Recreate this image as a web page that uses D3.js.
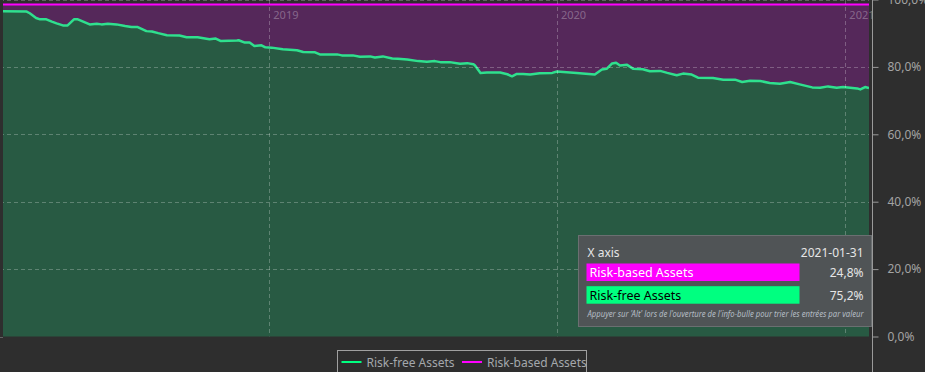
<!DOCTYPE html>
<html><head><meta charset="utf-8">
<script src="https://cdn.jsdelivr.net/npm/d3@7"></script>
<style>
html,body{margin:0;padding:0;background:#2e2e2e;}
svg{display:block;font-family:"Noto Sans",sans-serif;}
</style></head>
<body>
<svg id="chart" width="925" height="372"></svg>
<script>
const dates = ["2018-01-28","2018-02-27","2018-03-03","2018-03-11","2018-03-16","2018-03-24","2018-03-31","2018-04-06","2018-04-14","2018-04-20",
"2018-04-28","2018-05-03","2018-05-09","2018-05-18","2018-05-27","2018-06-02","2018-06-10","2018-06-21","2018-07-02","2018-07-10",
"2018-07-18","2018-07-29","2018-08-05","2018-08-13","2018-08-24","2018-09-09","2018-09-18","2018-10-02","2018-10-17","2018-10-25",
"2018-10-31","2018-11-21","2018-11-23","2018-12-01","2018-12-07","2018-12-13","2018-12-22","2018-12-27","2019-01-04","2019-01-18",
"2019-02-05","2019-02-13","2019-02-28","2019-03-06","2019-03-28","2019-04-03","2019-04-17","2019-04-26","2019-05-09","2019-05-15",
"2019-05-25","2019-06-06","2019-06-13","2019-06-25","2019-07-09","2019-07-20","2019-07-30","2019-08-06","2019-08-18","2019-08-31",
"2019-09-09","2019-09-17","2019-09-19","2019-09-26","2019-10-04","2019-10-21","2019-10-30","2019-11-05","2019-11-11","2019-11-19",
"2019-11-28","2019-12-10","2019-12-26","2020-01-01","2020-01-26","2020-02-18","2020-02-27","2020-03-04","2020-03-11","2020-03-16",
"2020-03-21","2020-03-30","2020-04-07","2020-04-19","2020-04-28","2020-05-11","2020-05-20","2020-06-01","2020-06-09","2020-06-20",
"2020-06-28","2020-07-17","2020-07-30","2020-08-14","2020-08-23","2020-09-02","2020-09-15","2020-09-27","2020-10-10","2020-10-23",
"2020-11-04","2020-11-20","2020-11-30","2020-12-10","2020-12-21","2020-12-29","2021-01-16","2021-01-20","2021-01-26","2021-01-31"];

const riskFree = [98.0,97.9,97.4,96.0,95.6,95.6,94.9,94.4,93.8,93.8,
95.6,95.6,95.0,94.1,94.3,94.1,94.3,94.1,93.6,93.3,
93.3,92.1,92.0,91.5,90.9,90.8,90.3,90.3,89.7,89.9,
89.2,89.3,89.4,88.7,88.7,87.7,87.9,87.3,87.2,86.7,
86.4,85.9,85.8,85.2,85.2,84.9,84.9,84.5,84.6,84.3,
84.6,84.0,83.9,83.7,83.2,83.0,83.2,82.9,82.9,82.4,
82.6,82.3,81.9,79.7,79.8,79.8,79.3,78.7,79.4,79.4,
79.2,79.6,79.7,80.1,79.7,79.2,80.7,80.9,82.5,82.7,
81.9,82.1,80.9,80.8,80.2,80.3,79.7,79.0,79.5,79.2,
78.3,78.2,77.7,77.7,77.0,77.4,77.3,76.7,76.5,77.0,
76.3,75.4,75.3,75.7,75.3,75.5,75.1,74.8,75.5,75.2];

const riskBased = [2.0,2.1,2.6,4.0,4.4,4.4,5.1,5.6,6.2,6.2,
4.4,4.4,5.0,5.9,5.7,5.9,5.7,5.9,6.4,6.7,
6.7,7.9,8.0,8.5,9.1,9.2,9.7,9.7,10.3,10.1,
10.8,10.7,10.6,11.3,11.3,12.3,12.1,12.7,12.8,13.3,
13.6,14.1,14.2,14.8,14.8,15.1,15.1,15.5,15.4,15.7,
15.4,16.0,16.1,16.3,16.8,17.0,16.8,17.1,17.1,17.6,
17.4,17.7,18.1,20.3,20.2,20.2,20.7,21.3,20.6,20.6,
20.8,20.4,20.3,19.9,20.3,20.8,19.3,19.1,17.5,17.3,
18.1,17.9,19.1,19.2,19.8,19.7,20.3,21.0,20.5,20.8,
21.7,21.8,22.3,22.3,23.0,22.6,22.7,23.3,23.5,23.0,
23.7,24.6,24.7,24.3,24.7,24.5,24.9,25.2,24.5,24.8];

const seriesNames = ["Risk-free Assets","Risk-based Assets"];
const seriesColors = ["#00ff80","#ff00ff"];
const yTicks = [0,20,40,60,80,100];
const yearTicks = ["2019-01-01","2020-01-01","2021-01-01"];
const tooltipTitle = ["X axis","2021-01-31"];
const tooltipRows = [["Risk-based Assets","24,8%"],["Risk-free Assets","75,2%"]];
const tooltipNote = "Appuyer sur 'Alt' lors de l'ouverture de l'info-bulle pour trier les entrées par valeur";

const parse = d3.timeParse("%Y-%m-%d");
const data = dates.map((d,i)=>({date:parse(d), riskFree:riskFree[i], riskBased:riskBased[i]}));

const svg = d3.select("#chart");
const pLeft = 3, pRight = 869, pTop = 0, pBottom = 336.5;
const x = d3.scaleTime().domain([parse("2018-01-28"), parse("2021-01-31")]).range([pLeft, pRight]);
const y = d3.scaleLinear().domain([0,100]).range([pBottom, -0.5]);
const fmt = v => d3.format(".1f")(v).replace(".", ",") + "%";

const defs = svg.append("defs");
defs.append("clipPath").attr("id","plotclip").append("rect")
  .attr("x",pLeft).attr("y",pTop).attr("width",pRight-pLeft).attr("height",pBottom-pTop);
defs.append("clipPath").attr("id","labelclip").append("rect")
  .attr("x",pLeft).attr("y",pTop).attr("width",pRight-pLeft+3).attr("height",pBottom-pTop);

const stack = d3.stack().keys(["riskFree","riskBased"]);
const stacked = stack(data);

const plot = svg.append("g").attr("clip-path","url(#plotclip)");
const series = plot.append("g").attr("transform","translate(0,5)");
const areaFill = ["#285a43","#55285a"];
const area = d3.area().x(d=>x(d.data.date)).y0(d=>y(d[0])).y1(d=>y(d[1]));
series.selectAll("path.area").data(stacked).join("path")
  .attr("class","area").attr("d",area).attr("fill",(d,i)=>areaFill[i]);

// grid
const grid = plot.append("g");
grid.selectAll("line.h").data(yTicks).join("line")
  .attr("x1",0).attr("x2",pRight).attr("y1",d=>Math.round(y(d))+0.5).attr("y2",d=>Math.round(y(d))+0.5)
  .attr("stroke","rgba(255,255,255,0.25)").attr("stroke-dasharray","4,3");
grid.selectAll("line.v").data(yearTicks).join("line")
  .attr("x1",d=>Math.round(x(parse(d)))+0.5).attr("x2",d=>Math.round(x(parse(d)))+0.5)
  .attr("y1",0).attr("y2",pBottom)
  .attr("stroke","rgba(255,255,255,0.25)").attr("stroke-dasharray","4,3");
svg.append("g").attr("clip-path","url(#labelclip)")
  .selectAll("text.yr").data(yearTicks).join("text")
  .attr("x",d=>x(parse(d))+4).attr("y",19)
  .attr("font-size",11).attr("fill","rgba(255,255,255,0.3)")
  .text(d=>d.slice(0,4));

// lines
const lineTop = d3.line().x(d=>x(d.data.date)).y(d=>y(d[1]));
series.append("path").datum(stacked[1]).attr("d",lineTop)
  .attr("fill","none").attr("stroke","#ff00ff").attr("stroke-width",2);
series.append("path").datum(stacked[0]).attr("d",lineTop)
  .attr("fill","none").attr("stroke","#2fe08e").attr("stroke-width",2.5).attr("stroke-linejoin","round");

// bottom gridline extends left outside plot
svg.append("line").attr("x1",0).attr("x2",pLeft).attr("y1",Math.round(y(0))+0.5).attr("y2",Math.round(y(0))+0.5)
  .attr("stroke","rgba(255,255,255,0.25)").attr("stroke-dasharray","4,3");

// y axis on right
const axisG = svg.append("g").attr("transform",`translate(${pRight+3.5},0)`);
const axis = d3.axisRight(y).tickValues(yTicks).tickSize(6).tickPadding(9).tickFormat(fmt);
axisG.call(axis);
axisG.select(".domain").attr("stroke","#9a9a9a").attr("d",`M0,-1V${pBottom+40}`);
axisG.selectAll(".tick line").attr("stroke","#9a9a9a");
axisG.selectAll(".tick text").attr("fill","#a3a3a3").attr("font-size",12).attr("font-family","Noto Sans");

// tooltip
const tt = svg.append("g").attr("transform","translate(578.5,235.5)");
tt.append("rect").attr("width",293).attr("height",91).attr("fill","#505456").attr("stroke","#6b6f71");
tt.append("text").attr("x",9).attr("y",21).attr("fill","#e6e6e6").attr("font-size",12).text(tooltipTitle[0]);
tt.append("text").attr("x",285).attr("y",21).attr("text-anchor","end").attr("fill","#e6e6e6").attr("font-size",12).text(tooltipTitle[1]);
const rowColors = [seriesColors[1], seriesColors[0]];
const rowText = ["#ffffff","#000000"];
tooltipRows.forEach((r,i)=>{
  const gy = 28 + i*22.7;
  tt.append("rect").attr("x",8).attr("y",gy).attr("width",213).attr("height",17.5).attr("fill",rowColors[i]);
  tt.append("text").attr("x",11).attr("y",gy+13.5).attr("fill",rowText[i]).attr("font-size",12.5).text(r[0]);
  tt.append("text").attr("x",285).attr("y",gy+13.5).attr("text-anchor","end").attr("fill","#e6e6e6").attr("font-size",12).text(r[1]);
});
tt.append("text").attr("x",9).attr("y",81).attr("fill","#b4bcc4").attr("font-size",8).attr("font-style","italic")
  .attr("textLength",276).attr("lengthAdjust","spacingAndGlyphs").text(tooltipNote);

// legend
const lg = svg.append("g").attr("transform","translate(337.5,350.5)");
lg.append("rect").attr("width",249).attr("height",30).attr("fill","none").attr("stroke","#a0a0a0");
const legX = [4, 124.5];
seriesNames.forEach((n,i)=>{
  lg.append("line").attr("x1",legX[i]).attr("x2",legX[i]+20).attr("y1",11.5).attr("y2",11.5)
    .attr("stroke",seriesColors[i]).attr("stroke-width",2);
  lg.append("text").attr("x",legX[i]+25).attr("y",16).attr("fill","#a4a8ac").attr("font-size",12).text(n);
});
</script>
</body></html>
